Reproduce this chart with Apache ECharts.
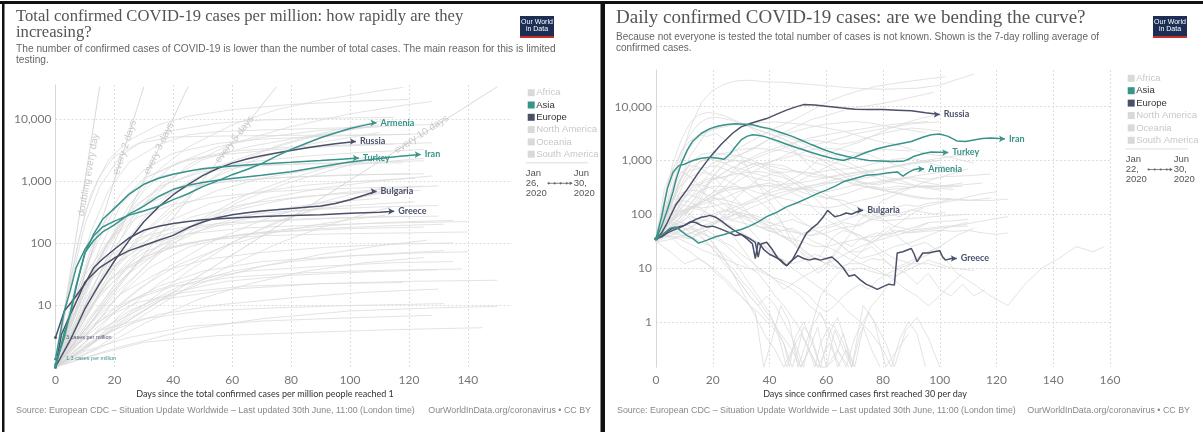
<!DOCTYPE html>
<html>
<head>
<meta charset="utf-8">
<script src="https://cdn.jsdelivr.net/npm/echarts@6/dist/echarts.min.js"></script>
<style>
html,body{margin:0;padding:0;background:#fff;}
#c{width:1203px;height:432px;}
</style>
</head>
<body>
<div id="c"></div>
<script>
// ---------- Panel 1: total confirmed cases per million, by days since 1 case per million ----------
const casesArmenia = [[0,1.35],[3,8],[5,17],[7,40],[10,79],[13,130],[16,180],[20,224],[25,280],[30,327],[35,390],[40,497],[45,620],[50,806],[55,1000],[60,1256],[65,1520],[70,1895],[75,2500],[80,3207],[85,4000],[90,4957],[95,5900],[100,6957],[105,7900],[109,8600]];
const casesRussia = [[0,1.0],[5,2.7],[10,8.7],[15,22],[20,51],[25,110],[30,219],[35,380],[40,597],[45,870],[50,1214],[55,1580],[60,1930],[65,2250],[70,2540],[75,2810],[80,3082],[85,3380],[90,3680],[95,3950],[102,4300]];
const casesTurkey = [[0,1.0],[3,3.6],[5,7],[7,20],[10,68],[13,140],[16,240],[20,360],[25,610],[30,880],[35,1100],[40,1280],[45,1430],[50,1565],[55,1660],[60,1740],[70,1875],[80,1990],[90,2120],[97,2230],[103,2330]];
const casesIran = [[0,1.1],[3,3],[6,12],[8,30],[10,70],[13,110],[16,150],[20,195],[25,290],[30,390],[35,560],[40,730],[45,850],[50,940],[55,1020],[60,1090],[70,1225],[80,1405],[90,1680],[100,2015],[110,2290],[117,2480],[124,2650]];
const casesBulgaria = [[0,1.0],[2,3.3],[5,7],[8,14],[10,23.5],[15,40],[20,57],[25,75],[30,91],[35,110],[40,132],[45,175],[50,217],[55,255],[60,283],[65,305],[70,325],[75,342],[80,358],[85,375],[90,392],[95,430],[100,497],[105,590],[109,680]];
const casesGreece = [[0,3.0],[3,8],[6,12],[10,22],[13,40],[16,55],[20,79],[25,120],[30,160],[35,185],[40,206],[45,222],[50,236],[60,252],[70,265],[80,276],[90,283],[100,300],[110,313],[115,322]];

// every other country, drawn in grey behind the highlighted ones
const casesOthers = [
  [[0,1],[4,15],[8,120],[12,600],[18,2200],[25,4500],[35,8000],[45,11000],[60,14000],[80,17000],[100,19000],[120,20500]],
  [[0,1],[5,20],[10,200],[15,800],[22,2500],[30,4500],[40,6500],[55,8500],[70,9500],[90,10200],[115,10500]],
  [[0,1],[6,40],[10,300],[15,1200],[20,2500],[28,4000],[40,5100],[60,5300],[80,5400],[110,5500],[120,5600]],
  [[0,1],[6,15],[12,150],[18,700],[25,2000],[35,3800],[45,5500],[55,6200],[70,6600],[90,7000],[110,7400]],
  [[0,1],[8,10],[15,60],[25,400],[35,1500],[45,3500],[60,8000],[75,14000],[90,20000],[105,26000],[118,32000]],
  [[0,1],[10,12],[20,80],[30,400],[45,1800],[60,4000],[80,7500],[100,12000],[120,17000],[128,19000]],
  [[0,1],[10,20],[20,150],[30,700],[40,1800],[55,3500],[70,5000],[90,6500],[110,7500],[130,8200]],
  [[0,1],[8,20],[15,150],[22,600],[30,1500],[40,2800],[55,4000],[70,4700],[90,5200],[110,5500],[125,5700]],
  [[0,1],[8,12],[15,80],[22,400],[32,1200],[45,2200],[60,3000],[80,3500],[100,3800],[120,4000],[128,4100]],
  [[0,1],[6,8],[12,60],[20,350],[30,1100],[42,2000],[55,2600],[75,3200],[95,3600],[115,3900]],
  [[0,1],[10,8],[18,50],[26,250],[36,900],[50,2200],[65,3500],[80,4700],[95,6000],[108,7600]],
  [[0,1],[10,10],[20,60],[30,250],[40,700],[55,1700],[70,3000],[85,4800],[100,6800],[110,8000]],
  [[0,1],[12,6],[24,40],[36,200],[48,800],[62,2000],[76,3800],[90,5800],[104,8000],[112,9500]],
  [[0,1],[10,6],[20,35],[30,150],[42,500],[55,1200],[70,2400],[85,3800],[100,5000],[110,6000]],
  [[0,1],[8,10],[16,70],[25,300],[35,800],[50,1500],[65,2000],[85,2500],[105,2900],[125,3200]],
  [[0,1],[9,15],[18,100],[27,400],[38,900],[50,1400],[65,1700],[85,1900],[105,2000],[125,2100]],
  [[0,1],[7,6],[14,40],[21,150],[30,400],[45,800],[60,1000],[80,1150],[100,1250],[125,1300]],
  [[0,1],[9,5],[18,30],[28,120],[40,350],[55,700],[70,1100],[90,1600],[110,2000],[125,2300]],
  [[0,1],[12,4],[24,20],[36,80],[50,250],[65,600],[80,1100],[95,1800],[108,2600]],
  [[0,1],[10,4],[22,18],[34,60],[48,180],[62,450],[78,900],[94,1500],[106,2200]],
  [[0,1],[8,5],[16,25],[26,90],[38,220],[52,420],[68,650],[85,850],[105,1000],[122,1100]],
  [[0,1],[10,5],[20,20],[32,70],[46,180],[60,330],[78,500],[98,650],[118,780],[130,830]],
  [[0,1],[12,3],[24,12],[38,40],[54,110],[70,230],[86,400],[100,600],[112,780]],
  [[0,1],[15,3],[30,10],[45,35],[60,100],[75,220],[90,380],[105,560],[115,700]],
  [[0,1],[8,4],[16,18],[26,60],[38,140],[52,230],[70,300],[90,350],[110,380],[130,400]],
  [[0,1],[10,3],[20,12],[32,40],[45,85],[60,130],[80,170],[100,200],[120,220],[135,230]],
  [[0,1],[6,3],[14,12],[24,40],[36,80],[50,110],[70,130],[95,140],[120,145],[140,150]],
  [[0,1],[10,4],[22,15],[36,35],[52,55],[70,70],[92,85],[115,95],[135,100]],
  [[0,1],[12,2.5],[26,8],[42,20],[60,35],[80,50],[100,62],[120,70],[132,75]],
  [[0,1],[15,2],[30,5],[48,12],[66,22],[85,35],[105,48],[125,58]],
  [[0,1],[8,2],[20,4],[35,7],[55,10],[80,13],[105,16],[130,18]],
  [[0,1],[10,1.8],[25,3],[45,4.5],[70,5.5],[100,6.2],[128,6.8]],
  [[0,1],[6,2.2],[16,4],[30,6],[50,8],[75,9],[100,9.8],[132,10.5]],
  [[0,1],[12,3],[25,8],[40,16],[58,24],[80,30],[105,34],[130,37]],
  [[0,1],[5,6],[10,30],[18,110],[28,260],[40,420],[55,560],[75,680],[100,760],[125,820]],
  [[0,1],[7,7],[14,50],[22,200],[32,500],[45,800],[60,1000],[80,1150],[105,1250],[120,1300]],
  [[0,1],[6,10],[12,80],[18,300],[26,700],[36,1200],[50,1600],[70,1800],[95,1900],[118,1950]],
  [[0,1],[9,3],[18,14],[28,50],[40,140],[55,300],[72,520],[90,760],[110,1000],[128,1200]],
  [[0,1],[11,2],[22,7],[35,22],[50,60],[66,140],[82,280],[98,480],[110,650]],
  [[0,1],[14,2],[28,6],[44,18],[60,45],[76,100],[92,190],[106,300],[114,380]],
  [[0,1],[5,3],[12,15],[20,45],[30,90],[45,140],[65,175],[90,195],[115,210],[140,220]],
  [[0,1],[4,4],[10,20],[18,60],[28,120],[40,170],[58,210],[80,240],[105,260],[130,270]],
  [[0,1],[8,5],[18,25],[30,70],[45,140],[62,230],[80,320],[100,400],[122,460]],
  [[0,1],[10,2],[22,5],[36,12],[52,25],[70,42],[90,65],[110,90],[126,110]],
  [[0,1],[12,1.5],[30,2.5],[55,3.2],[85,3.6],[115,4],[145,4.3]],
  [[0,1],[20,2],[45,4],[70,6],[100,8],[130,9],[150,9.5]],
  [[0,1],[15,4],[35,12],[60,18],[90,22],[120,24],[150,25]],
  [[0,1],[7,4],[15,15],[25,40],[38,80],[55,120],[75,150],[100,170],[125,180]],
  [[0,1],[9,6],[18,25],[30,60],[45,100],[65,140],[90,170],[115,190],[132,200]],
  [[0,1],[5,5],[12,25],[22,70],[35,130],[50,180],[70,220],[95,250],[120,270]],
  [[0,1],[10,3],[22,9],[35,20],[50,35],[70,50],[95,60],[120,68],[140,72]],
  [[0,1],[8,3],[18,8],[30,15],[45,25],[65,35],[90,42],[115,48],[135,50]],
  [[0,1],[14,5],[28,18],[42,45],[58,90],[75,150],[95,220],[112,280]],
  [[0,1],[6,2],[14,5],[26,12],[40,20],[60,28],[85,33],[110,36],[138,38]],
  [[0,1],[12,6],[24,30],[38,90],[54,200],[72,330],[92,450],[110,520]],
  [[0,1],[10,8],[20,40],[32,120],[46,260],[64,420],[84,560],[104,650],[124,700]],
  [[0,1],[7,2.5],[16,6],[28,11],[44,16],[64,20],[90,22],[118,23]]
];

// doubling-time guides: start at 1 case per million, end beyond the top of the axis
const doublingNames = ['doubling every day', 'every 2 days', 'every 3 days', 'every 5 days', 'every 10 days'];
const doublingEnds = [[15,32768],[30,32768],[45,32768],[75,32768],[150,32768]];
const doublingLabelAt = [[11.2,1250],[23.6,3450],[35.1,3300],[60.8,4620],[124.3,5630]];
const doublingLabelAngle = [80, 72, 64, 52, 33];

// ---------- Panel 2: daily confirmed cases (7-day average), by days since 30 per day ----------
const dailyRussia = [[0,35],[2,45],[4,70],[7,150],[11,290],[15,600],[19,1150],[23,2000],[27,3200],[30,4200],[34,5000],[39,6000],[43,7400],[46,8600],[49,9800],[52,10900],[56,10700],[60,10200],[65,9500],[70,8900],[75,8800],[80,8800],[85,8600],[90,8400],[95,7700],[100,7150]];
const dailyIran = [[0,35],[2,90],[4,300],[6,600],[8,800],[10,850],[13,1000],[16,1100],[19,1150],[22,1100],[24,1050],[26,1300],[28,1800],[30,2400],[32,2800],[34,3000],[36,2950],[38,2800],[40,2600],[43,2300],[46,2000],[50,1700],[54,1450],[58,1250],[62,1100],[66,1000],[70,1150],[74,1400],[78,1650],[82,1850],[86,2050],[90,2250],[94,2700],[97,3000],[100,3100],[103,2800],[106,2300],[109,2250],[112,2400],[115,2550],[118,2600],[121,2550],[123,2520]];
const dailyTurkey = [[0,35],[2,60],[4,120],[6,260],[7,430],[9,900],[11,1550],[13,2300],[16,3200],[19,3900],[22,4350],[25,4650],[28,4800],[31,4700],[34,4600],[37,4200],[40,3900],[44,3300],[48,2800],[51,2400],[55,1950],[59,1600],[63,1350],[67,1200],[71,1080],[75,1000],[79,980],[83,950],[87,960],[89,1050],[91,1200],[94,1330],[97,1440],[100,1420],[103,1400]];
const dailyArmenia = [[0,35],[3,45],[5,55],[7,58],[9,48],[11,40],[13,35],[15,29],[18,33],[21,38],[24,42],[27,47],[30,52],[33,60],[36,72],[39,90],[42,105],[46,137],[50,165],[54,205],[57,244],[60,280],[63,330],[66,400],[70,460],[74,530],[78,550],[82,590],[85,610],[87,510],[89,600],[91,680],[93,710],[94.5,690]];
const dailyBulgaria = [[0,35],[2,40],[4,48],[6,55],[8,58],[10,62],[12,72],[14,70],[16,62],[18,58],[20,60],[22,55],[24,50],[26,45],[28,40],[30,42],[32,35],[34,28],[35,15],[36,30],[38,22],[40,18],[42,16],[44,14],[46,11],[48,14],[50,22],[52,35],[53,44],[55,55],[57,67],[59,90],[60.5,118],[62,100],[63,90],[65,95],[67,105],[69,100],[71,112],[73,118]];
const dailyGreece = [[0,35],[2,38],[4,45],[6,50],[8,55],[10,62],[12,70],[14,80],[16,88],[18,92],[19,95],[21,88],[23,75],[25,62],[27,52],[29,45],[31,40],[33,35],[35,30],[36,16],[37,28],[39,30],[41,22],[43,15],[45,12],[46,11],[48,14],[50,17],[52,15],[54,14],[56,15],[58,14],[60,15],[62,16],[64,13],[66,10],[68,7],[70,7.5],[72,6],[74,5],[76,4.5],[78,4],[80,4.5],[82,5],[84,4.8],[85,19],[87,20],[89,22],[90,23],[91,18],[92,13],[94,19],[96,19],[98,20],[100,21],[101,16],[102,14],[104,15],[106,15]];

const dailyOthers = [
  [[0,32],[4,150],[8,800],[12,4000],[16,12000],[20,20000],[24,26000],[28,30000],[33,31000],[38,29000],[44,28500],[50,27000],[56,25500],[62,24000],[68,22500],[74,21500],[80,21000],[86,21500],[92,22000],[100,25000],[106,32000],[112,40000]],
  [[0,33],[6,80],[12,200],[18,500],[24,1100],[30,1800],[36,2700],[42,4000],[48,5500],[54,8000],[60,12000],[66,16000],[72,20000],[78,24000],[84,27000],[90,30000],[96,33000],[102,36000]],
  [[0,31],[5,70],[10,200],[15,500],[20,900],[25,1100],[30,1300],[35,1700],[40,2500],[45,3300],[50,4400],[55,5800],[60,6800],[65,8200],[70,9500],[75,10500],[80,11500],[85,13000],[90,15000],[95,17000],[98,18500]],
  [[0,30],[3,120],[6,500],[9,1500],[12,3000],[15,4800],[18,6000],[21,6400],[24,6000],[27,5500],[30,4700],[35,3900],[40,3100],[45,2500],[50,1900],[55,1300],[60,900],[65,650],[70,450],[75,330],[80,280],[85,250],[90,220],[95,200],[100,190],[110,180],[118,200]],
  [[0,35],[3,200],[6,900],[9,2500],[12,5000],[15,7000],[18,7800],[21,7500],[24,6800],[28,5500],[32,4500],[36,3600],[40,3200],[45,2500],[50,1300],[55,700],[60,500],[65,450],[70,350],[75,320],[80,280],[86,300],[92,320],[100,330],[108,350],[115,380]],
  [[0,32],[4,150],[8,700],[12,2000],[16,3200],[20,4000],[24,4600],[28,4600],[32,4500],[36,4300],[40,3700],[45,2900],[50,2300],[55,1700],[60,1400],[65,1100],[70,800],[75,630],[80,500],[86,430],[92,330],[100,330],[108,380]],
  [[0,36],[6,200],[12,1200],[18,3500],[24,4500],[30,4800],[36,5000],[42,5200],[48,4900],[54,4500],[60,4000],[66,3500],[72,2800],[78,2300],[84,2000],[90,1600],[96,1300],[102,1200],[108,1000],[112,900]],
  [[0,33],[6,60],[12,150],[18,350],[24,600],[30,900],[36,1300],[42,1700],[48,2100],[54,2600],[60,3000],[66,3400],[72,3800],[78,4300],[84,4700],[90,5000],[96,5300]],
  [[0,31],[5,50],[10,90],[15,200],[20,500],[25,900],[30,1300],[35,1800],[40,2500],[45,3000],[50,3600],[55,4200],[60,4700],[65,5000],[70,5300],[75,5000],[80,4500],[85,4000],[90,3600],[95,3300]],
  [[0,34],[4,150],[8,700],[12,1800],[16,3000],[20,3800],[24,4200],[28,4700],[32,4500],[36,3200],[40,2500],[44,2000],[48,1500],[52,1100],[56,900],[60,800],[64,600],[68,450],[72,400],[78,350],[84,420],[90,480],[96,450],[102,500],[110,520],[118,560]],
  [[0,32],[5,100],[10,400],[15,900],[20,1200],[25,1400],[30,1600],[35,1700],[40,1600],[45,1500],[50,1300],[55,1150],[60,1000],[65,850],[70,700],[75,550],[80,420],[85,380],[90,350],[95,320],[100,300],[105,290]],
  [[0,35],[5,80],[10,120],[15,160],[20,250],[25,500],[30,900],[35,1100],[40,1400],[45,1700],[50,2200],[55,2400],[60,2200],[65,2000],[70,2200],[75,2700],[80,3200],[85,3600],[90,4000],[95,3800],[100,3500]],
  [[0,35],[5,70],[10,110],[15,150],[20,220],[25,300],[30,450],[35,650],[40,900],[45,1200],[50,1600],[55,1900],[60,2200],[65,2600],[70,3100],[75,3500],[80,3900],[85,4300],[90,4800],[95,5000],[100,5200]],
  [[0,40],[4,80],[8,60],[12,50],[16,90],[20,200],[25,350],[30,600],[35,800],[40,950],[45,1100],[50,1300],[55,1600],[60,1700],[65,1600],[70,1400],[75,1300],[80,1000],[85,800],[90,650],[95,600]],
  [[0,33],[4,100],[8,350],[12,900],[16,1300],[20,1400],[24,1300],[28,1250],[32,1100],[36,900],[40,700],[44,600],[48,450],[52,350],[56,280],[60,230],[64,180],[68,130],[72,100],[76,80],[80,75],[86,80],[92,85],[98,90],[104,95],[110,100]],
  [[0,35],[4,100],[8,300],[12,700],[16,1000],[20,1100],[24,1050],[28,1000],[32,950],[36,800],[40,650],[44,550],[48,400],[52,300],[56,250],[60,200],[66,180],[72,130],[78,90],[84,60],[90,50],[96,55],[102,60],[110,60]],
  [[0,34],[3,80],[6,200],[9,500],[12,900],[15,1100],[18,1100],[21,1000],[24,900],[27,750],[30,600],[33,450],[36,350],[40,250],[44,150],[48,100],[52,70],[56,50],[60,40],[64,30],[68,20],[72,15],[78,18],[84,25],[90,30],[96,40],[104,60],[110,70]],
  [[0,30],[3,100],[6,300],[9,600],[12,800],[15,750],[18,600],[21,450],[24,300],[27,220],[30,150],[33,100],[36,70],[40,55],[44,40],[48,35],[52,30],[56,25],[60,25],[66,30],[72,35],[78,40],[84,45],[90,55],[96,70],[104,75],[110,80]],
  [[0,36],[3,120],[6,180],[9,220],[12,230],[15,200],[18,180],[21,150],[24,120],[28,100],[32,80],[36,60],[40,50],[44,40],[48,30],[52,22],[56,15],[60,12],[64,10],[68,9],[72,10],[78,8],[84,7],[90,10],[96,14],[104,10],[112,9]],
  [[0,32],[3,70],[6,120],[9,180],[12,280],[15,380],[18,450],[21,480],[24,600],[27,750],[30,700],[33,600],[36,550],[40,480],[44,350],[48,250],[52,200],[56,120],[60,80],[64,60],[68,50],[72,40],[76,30],[80,20],[84,15],[90,12],[96,12],[102,10]],
  [[0,33],[3,100],[6,250],[9,500],[12,650],[15,700],[18,750],[21,800],[24,700],[27,600],[30,550],[33,500],[36,450],[40,420],[44,400],[48,300],[52,250],[56,220],[60,200],[64,220],[68,250],[72,300],[76,330],[80,300],[85,330],[90,320],[96,340],[102,320],[108,330]],
  [[0,34],[4,100],[8,300],[12,500],[16,600],[20,550],[24,450],[28,350],[32,250],[36,180],[40,120],[44,70],[48,40],[52,20],[56,15],[60,12],[64,20],[68,40],[72,80],[76,120],[80,180],[86,250],[92,350],[98,450],[104,560],[110,700]],
  [[0,35],[4,90],[8,200],[12,350],[16,350],[20,300],[24,200],[28,110],[32,60],[36,35],[40,20],[44,15],[48,12],[52,14],[56,18],[60,15],[64,10],[68,12],[72,12],[76,15],[80,14],[84,10],[88,12],[94,18],[100,25],[106,40],[112,55]],
  [[0,33],[3,50],[6,65],[9,70],[12,60],[15,45],[18,30],[21,20],[24,12],[27,8],[30,5],[33,3],[36,2],[39,1.2],[42,0.8],[45,0.5],[48,0.3],[51,0.143],[54,0.3],[57,0.143],[60,0.143],[64,0.3],[68,0.143]],
  [[0,36],[3,45],[6,50],[9,40],[12,35],[15,45],[18,50],[21,40],[24,30],[27,25],[30,18],[33,14],[36,10],[39,8],[42,6],[45,5],[48,4],[51,3],[54,2],[57,1.5],[60,1],[63,0.8],[66,0.4],[69,0.143],[72,0.6],[75,1.5],[78,0.8],[81,0.4],[84,0.143],[88,0.7],[92,1.2],[96,0.5],[100,0.143]],
  [[0,32],[3,80],[6,150],[9,180],[12,170],[15,140],[18,100],[21,90],[24,60],[27,40],[30,25],[33,15],[36,10],[39,8],[42,6],[45,4],[48,5],[51,4],[54,3],[57,2],[60,1.5],[63,2],[66,3],[69,4],[72,5],[75,4],[78,6],[82,8],[86,10],[90,12],[94,16],[98,20],[102,30]],
  [[0,33],[3,40],[6,45],[9,50],[12,55],[15,45],[18,40],[21,35],[24,28],[27,20],[30,14],[33,10],[36,8],[39,5],[42,3],[45,2],[48,1.2],[51,0.7],[54,0.3],[56,0.143],[58,0.4],[61,0.8],[64,0.3],[67,0.143],[70,0.5],[73,1],[76,2],[79,3],[82,5],[86,8],[90,12],[94,18],[98,22]],
  [[0,35],[3,60],[6,80],[9,70],[12,60],[15,50],[18,40],[21,25],[24,15],[27,8],[30,4],[33,2],[36,1],[39,0.5],[42,0.3],[45,0.143],[48,0.3],[51,0.6],[54,0.3],[57,0.143],[61,0.4],[65,0.143]],
  [[0,34],[3,100],[6,200],[9,250],[12,280],[15,270],[18,230],[21,200],[24,150],[27,120],[30,100],[33,80],[36,60],[39,50],[42,45],[45,50],[48,55],[51,45],[54,40],[57,45],[60,55],[63,60],[66,70],[69,65],[72,60],[75,80],[78,90],[82,100],[86,90],[90,120],[94,110],[98,100],[102,110]],
  [[0,31],[4,60],[8,120],[12,200],[16,280],[20,330],[24,330],[28,300],[32,320],[36,350],[40,340],[44,300],[48,280],[52,300],[56,320],[60,360],[64,400],[68,450],[72,380],[76,360],[80,400],[84,430],[88,480],[92,420],[96,380],[100,350],[104,320]],
  [[0,35],[3,300],[6,700],[9,600],[12,500],[15,350],[18,200],[21,120],[24,90],[27,80],[30,90],[33,100],[36,90],[39,80],[42,60],[45,40],[48,30],[51,20],[54,12],[57,8],[60,10],[63,20],[66,30],[69,25],[72,35],[75,40],[78,45],[82,40],[86,50],[90,45],[95,48],[100,50],[105,48],[110,50],[115,45],[120,42],[124,45]],
  [[0,33],[4,40],[8,38],[12,35],[16,45],[20,60],[24,100],[28,200],[32,300],[36,450],[40,550],[44,500],[48,400],[52,300],[56,200],[60,120],[64,80],[68,50],[72,35],[76,30],[80,35],[84,40],[88,45],[94,50],[100,55],[106,60],[112,70],[118,80],[124,90]],
  [[0,35],[3,180],[6,700],[9,1500],[12,2300],[15,3000],[18,2800],[21,3200],[24,2500],[27,1800],[30,1200],[33,600],[36,350],[39,200],[42,120],[45,60],[48,30],[51,20],[54,15],[57,14],[60,25],[63,40],[66,50],[69,45],[72,40],[75,30],[78,40],[82,60],[86,35],[90,25],[95,30],[100,20],[106,8],[112,5],[118,3],[124,2],[130,5],[136,10],[142,15],[148,25],[154,20],[158,25]],
  [[0,33],[4,45],[8,60],[12,100],[16,200],[20,500],[24,900],[28,1000],[32,800],[36,900],[40,800],[44,700],[48,650],[52,600],[56,550],[60,500],[64,450],[68,400],[72,350],[76,300],[80,280],[84,250],[88,220],[92,200],[96,190],[100,200],[106,190],[112,180],[118,180],[124,190]],
  [[0,32],[4,60],[8,100],[12,150],[16,300],[20,450],[24,500],[28,550],[32,600],[36,620],[40,580],[44,600],[48,620],[52,600],[56,580],[60,650],[64,680],[68,700],[72,750],[76,850],[80,950],[84,1050],[88,1100],[92,1050],[96,900],[100,800],[104,700],[108,650]],
  [[0,30],[5,70],[10,110],[15,150],[20,220],[25,280],[30,300],[35,320],[40,340],[45,360],[50,380],[55,420],[60,480],[65,550],[70,600],[75,650],[80,700],[85,800],[90,900],[95,1000],[100,1100],[105,1200],[110,1250]],
  [[0,32],[4,80],[8,140],[12,80],[16,60],[20,70],[24,90],[28,120],[32,150],[36,200],[40,280],[44,350],[48,450],[52,600],[56,900],[60,1300],[64,1600],[68,1900],[72,2200],[76,2800],[80,3500],[84,4200],[88,5000],[92,5800],[96,6500],[100,7200]],
  [[0,31],[5,40],[10,50],[15,70],[20,90],[25,120],[30,150],[35,200],[40,250],[45,300],[50,400],[55,550],[60,750],[65,1000],[70,1300],[75,1500],[80,1600],[85,1550],[90,1500]],
  [[0,34],[4,50],[8,80],[12,130],[16,180],[20,250],[24,300],[28,330],[32,300],[36,250],[40,230],[44,200],[48,180],[52,150],[56,140],[60,130],[64,140],[68,160],[72,180],[76,200],[80,230],[84,260],[88,300],[92,330],[96,300],[100,280]],
  [[0,30],[3,40],[6,35],[9,25],[12,20],[15,15],[18,12],[21,8],[24,6],[27,4],[30,3],[33,2],[36,1.5],[39,1],[42,0.7],[45,0.4],[48,0.143],[50,0.3],[52,0.8],[55,0.5],[58,0.143],[61,0.6],[64,1.2],[67,0.4],[70,0.143],[73,0.8],[76,0.3],[79,0.143]],
  [[0,33],[4,120],[8,150],[12,140],[16,130],[20,140],[24,160],[28,140],[32,110],[36,80],[40,60],[44,40],[48,30],[52,45],[56,50],[60,40],[64,30],[68,20],[72,20],[76,25],[80,15],[84,10],[88,8],[92,5],[96,8],[100,4],[104,3],[108,5],[112,3],[116,4]],
  [[0,35],[3,90],[6,110],[9,120],[12,100],[15,70],[18,40],[21,25],[24,15],[27,8],[30,5],[33,3],[36,2],[39,3],[42,2],[45,1],[48,0.5],[51,0.143],[54,0.3],[57,0.8],[60,0.143],[63,0.2],[66,0.6],[69,0.143],[73,2],[77,1],[81,0.143],[85,0.3],[89,0.6]],
  [[0,34],[4,60],[8,100],[12,130],[16,150],[20,180],[24,200],[28,250],[32,300],[36,350],[40,380],[44,330],[48,300],[52,320],[56,350],[60,380],[64,400],[68,420],[72,450],[76,500],[80,550],[84,600],[88,650]],
  [[0,30],[5,80],[10,200],[15,350],[20,450],[25,500],[30,700],[35,900],[40,850],[45,800],[50,600],[55,500],[60,480],[65,520],[70,580],[75,620],[80,700],[85,800],[90,900],[95,950],[100,1000]],
  [[0,33],[4,45],[8,60],[12,70],[16,90],[20,100],[24,120],[28,110],[32,100],[36,80],[40,70],[44,60],[48,50],[52,40],[56,30],[60,25],[64,20],[68,15],[72,12],[76,10],[80,8],[84,6],[88,4],[92,3],[96,2],[100,3],[104,5],[108,8]],
  [[0,31],[5,20],[10,12],[15,15],[20,10],[25,6],[30,3],[35,1.5],[38,0.143],[41,0.5],[44,2],[47,1],[50,0.143],[54,0.6],[58,3],[62,6],[66,10],[70,15],[74,25],[78,35],[82,50],[86,70],[90,100],[94,130]],
  [[0,32],[4,50],[8,70],[12,90],[16,80],[20,70],[24,85],[28,100],[32,90],[36,75],[40,60],[44,70],[48,80],[52,65],[56,55],[60,60],[64,70],[68,85],[72,100],[76,90],[80,110],[84,130],[88,150],[92,140],[96,160],[100,170],[104,190]],
  [[0,35],[3,55],[6,70],[9,60],[12,45],[15,40],[18,30],[21,20],[24,14],[27,10],[30,6],[33,4],[36,2.5],[39,1.5],[42,0.9],[45,0.4],[47,0.143],[49,0.5],[52,1],[55,0.4],[58,0.143],[60,0.143],[63,0.7],[66,0.3],[69,0.143]],
  [[0,34],[4,70],[8,110],[12,130],[16,120],[20,95],[24,70],[28,55],[32,40],[36,30],[40,22],[44,15],[48,10],[52,7],[56,5],[60,3.5],[64,2.5],[68,1.5],[72,1],[76,0.6],[80,0.3],[83,0.143],[86,0.5],[89,1],[92,0.6],[95,0.143]],
  [[0,33],[5,45],[10,40],[15,50],[20,65],[25,80],[30,70],[35,60],[40,55],[45,50],[50,45],[55,40],[60,45],[65,55],[70,60],[75,75],[80,90],[85,100],[90,120],[95,140],[100,160],[105,180],[110,210],[115,240],[120,260]],
  [[0,36],[4,40],[8,35],[12,28],[16,22],[20,18],[24,15],[28,12],[32,10],[36,9],[40,7],[44,6],[48,5],[52,7],[56,9],[60,12],[64,15],[68,20],[72,25],[76,30],[80,40],[84,50],[88,45],[92,55],[96,70]],
  [[0,31],[5,60],[10,100],[15,160],[20,200],[25,180],[30,150],[35,170],[40,220],[45,260],[50,300],[55,280],[60,260],[65,300],[70,350],[75,380],[80,420],[85,460],[90,500],[95,550],[100,600],[105,650]],
  [[0,32],[4,45],[8,55],[12,40],[16,30],[20,25],[24,18],[28,12],[32,6],[36,3],[40,1.5],[43,0.6],[46,0.143],[49,0.4],[52,0.143],[55,0.8],[58,1.5],[61,0.6],[64,0.143],[67,0.3],[70,0.143]],
  [[0,30],[6,35],[12,45],[18,60],[24,80],[30,110],[36,150],[42,200],[48,260],[54,330],[60,400],[66,480],[72,560],[78,650],[84,750],[90,850],[96,950],[100,1000]]
];

const continents = ['Africa', 'Asia', 'Europe', 'North America', 'Oceania', 'South America'];

const TEAL = '#38938b';
const SLATE = '#4b5069';
const GREY = '#dcdcdc';
const SANS = '"Liberation Sans", Arial, sans-serif';
const LATO = 'Lato, "Liberation Sans", sans-serif';
const SERIF = '"Liberation Serif", "DejaVu Serif", serif';

const continentColor = { 'Asia': TEAL, 'Europe': SLATE };

function decadeFormatter(hideOne) {
  return function (v) {
    const l = Math.log10(v);
    if (Math.abs(l - Math.round(l)) > 1e-6) return '';
    if (hideOne && Math.round(l) === 0) return '';
    return Math.round(v).toLocaleString('en-US');
  };
}

function greySeries(list, axis) {
  return list.map(d => ({
    type: 'line', xAxisIndex: axis, yAxisIndex: axis, data: d,
    symbol: 'none', silent: true, z: 1,
    lineStyle: { color: GREY, width: 0.8 }
  }));
}

function countrySeries(name, data, color, axis, startText) {
  const items = data.map((p, i) => {
    if (i === data.length - 1) {
      return { value: p, symbol: 'arrow', symbolSize: [5, 6], symbolRotate: -90 };
    }
    if (i === 0) {
      const it = { value: p, symbol: 'circle', symbolSize: 3 };
      if (startText) {
        it.label = { show: true, position: 'right', distance: 9, formatter: startText,
          fontSize: 5.5, fontFamily: SANS, color: color };
      }
      return it;
    }
    return p;
  });
  return {
    type: 'line', name: name, xAxisIndex: axis, yAxisIndex: axis, data: items,
    symbol: 'none', silent: true, z: 5,
    lineStyle: { color: color, width: 1.5 },
    itemStyle: { color: color },
    endLabel: { show: true, formatter: '{a}', color: color, fontSize: 9,
      fontWeight: 'bold', fontFamily: LATO, distance: 4 }
  };
}

const series = [];
series.push(...greySeries(casesOthers, 0));
doublingNames.forEach((n, i) => {
  series.push({
    type: 'line', xAxisIndex: 0, yAxisIndex: 0, data: [[0, 1], doublingEnds[i]],
    symbol: 'none', silent: true, z: 2, lineStyle: { color: '#cfcfcf', width: 0.8 }
  });
});
series.push({
  type: 'scatter', xAxisIndex: 0, yAxisIndex: 0, silent: true, z: 3,
  symbolSize: 1, itemStyle: { color: 'rgba(0,0,0,0)' },
  data: doublingLabelAt.map((p, i) => ({
    value: p,
    label: { show: true, position: 'inside', formatter: doublingNames[i], rotate: doublingLabelAngle[i],
      fontSize: 10, fontFamily: SANS, color: '#bdbdbd', align: 'center', verticalAlign: 'middle' }
  }))
});
series.push(countrySeries('Russia', casesRussia, SLATE, 0));
series.push(countrySeries('Bulgaria', casesBulgaria, SLATE, 0));
series.push(countrySeries('Greece', casesGreece, SLATE, 0, '3 cases per million'));
series.push(countrySeries('Iran', casesIran, TEAL, 0));
series.push(countrySeries('Turkey', casesTurkey, TEAL, 0));
series.push(countrySeries('Armenia', casesArmenia, TEAL, 0, '1.3 cases per million'));

series.push(...greySeries(dailyOthers, 1));
series.push(countrySeries('Russia', dailyRussia, SLATE, 1));
series.push(countrySeries('Bulgaria', dailyBulgaria, SLATE, 1));
series.push(countrySeries('Greece', dailyGreece, SLATE, 1));
series.push(countrySeries('Iran', dailyIran, TEAL, 1));
series.push(countrySeries('Turkey', dailyTurkey, TEAL, 1));
series.push(countrySeries('Armenia', dailyArmenia, TEAL, 1));

const dotted = { show: true, lineStyle: { color: '#dddddd', type: [2, 2], width: 1 } };

function xAxisFor(idx, maxDay) {
  return {
    type: 'value', gridIndex: idx, min: 0, max: maxDay, interval: 20,
    axisLine: { show: false }, axisTick: { show: false },
    axisLabel: { color: '#777', fontSize: 12, fontFamily: LATO, margin: 7,
      formatter: v => (v % 20 === 0 ? String(v) : '') },
    splitLine: Object.assign({ showMinLine: false, showMaxLine: maxDay % 20 === 0 }, dotted)
  };
}
function yAxisFor(idx, minV, maxV, hideOne) {
  return {
    type: 'log', logBase: 10, gridIndex: idx, min: minV, max: maxV,
    axisLine: { show: true, lineStyle: { color: '#d6d6d6' } }, axisTick: { show: false },
    axisLabel: { color: '#777', fontSize: 12, fontFamily: LATO, margin: 4, formatter: decadeFormatter(hideOne) },
    splitLine: Object.assign({ showMinLine: false, showMaxLine: false }, dotted)
  };
}

// ---------- page furniture: frame, headings, logos, legends, notes ----------
const graphic = [];
function txt(x, y, text, font, fill, extra) {
  graphic.push({ type: 'text', silent: true, z: 10,
    style: Object.assign({ x: x, y: y, text: text, font: font, fill: fill, textVerticalAlign: 'middle' }, extra || {}) });
}
function box(x, y, w, h, fill) {
  graphic.push({ type: 'rect', silent: true, z: 10, shape: { x: x, y: y, width: w, height: h }, style: { fill: fill } });
}
function logo(x, y) {
  box(x, y, 34, 22, '#1c2e54');
  box(x, y + 20, 34, 2, '#c8302a');
  txt(x + 17, y + 6, 'Our World', '7px ' + SANS, '#fff', { textAlign: 'center' });
  txt(x + 17, y + 13.5, 'in Data', '7px ' + SANS, '#fff', { textAlign: 'center' });
}
function continentLegend(x, y, step, from, to) {
  continents.forEach((c, i) => {
    const col = continentColor[c];
    box(x, y + i * step - 3.5, 7, 7, col || '#d9d9d9');
    txt(x + 8.5, y + i * step, c, '9.5px ' + SANS, col ? '#333' : '#c8c8c8');
  });
  const sepY = y + 5.7 * step;
  graphic.push({ type: 'line', silent: true, z: 10, shape: { x1: x - 2, y1: sepY, x2: x + 60, y2: sepY },
    style: { stroke: '#dddddd', lineWidth: 1 } });
  const dy = sepY + 6;
  txt(x - 2, dy, from, '9.5px ' + SANS, '#555', { lineHeight: 9.7, textVerticalAlign: 'top' });
  txt(x + 46, dy, to, '9.5px ' + SANS, '#555', { lineHeight: 9.7, textVerticalAlign: 'top' });
  const ay = dy + 14.5;
  graphic.push({ type: 'line', silent: true, z: 10, shape: { x1: x + 20, y1: ay, x2: x + 44, y2: ay },
    style: { stroke: '#666', lineWidth: 0.8 } });
  [x + 21, x + 27, x + 33, x + 39].forEach(cx => graphic.push({ type: 'circle', silent: true, z: 10,
    shape: { cx: cx, cy: ay, r: 1.1 }, style: { fill: '#666' } }));
  graphic.push({ type: 'polygon', silent: true, z: 10,
    shape: { points: [[x + 45, ay], [x + 42, ay - 1.8], [x + 42, ay + 1.8]] }, style: { fill: '#666' } });
}

// frame
box(0, 1, 1203, 3, '#111');
box(2, 1, 2.5, 431, '#111');
box(600.5, 1, 4.5, 431, '#111');

// left panel text
txt(16, 17, 'Total confirmed COVID-19 cases per million: how rapidly are they', '16.6px ' + SERIF, '#555');
txt(16, 33, 'increasing?', '16.6px ' + SERIF, '#555');
txt(16, 49, 'The number of confirmed cases of COVID-19 is lower than the number of total cases. The main reason for this is limited', '10.2px ' + SANS, '#666');
txt(16, 60, 'testing.', '10.2px ' + SANS, '#666');
logo(520, 16);
continentLegend(527.7, 92.7, 12.3, 'Jan\n26,\n2020', 'Jun\n30,\n2020');
txt(265, 394, 'Days since the total confirmed cases per million people reached 1', '9px ' + LATO, '#333', { textAlign: 'center' });
txt(16, 411, 'Source: European CDC – Situation Update Worldwide – Last updated 30th June, 11:00 (London time)', '8.9px ' + SANS, '#888');
txt(591, 411, 'OurWorldInData.org/coronavirus • CC BY', '8.9px ' + SANS, '#888', { textAlign: 'right' });

// right panel text
txt(616, 18, 'Daily confirmed COVID-19 cases: are we bending the curve?', '19px ' + SERIF, '#555');
txt(616, 37, 'Because not everyone is tested the total number of cases is not known. Shown is the 7-day rolling average of', '10px ' + SANS, '#666');
txt(616, 48, 'confirmed cases.', '10px ' + SANS, '#666');
logo(1153, 16);
continentLegend(1127.7, 78.3, 12.4, 'Jan\n22,\n2020', 'Jun\n30,\n2020');
txt(865, 394, 'Days since confirmed cases first reached 30 per day', '9px ' + LATO, '#333', { textAlign: 'center' });
txt(617, 411, 'Source: European CDC – Situation Update Worldwide – Last updated 30th June, 11:00 (London time)', '8.9px ' + SANS, '#888');
txt(1190, 411, 'OurWorldInData.org/coronavirus • CC BY', '8.9px ' + SANS, '#888', { textAlign: 'right' });

const chart = echarts.init(document.getElementById('c'), null, { renderer: 'canvas', width: 1203, height: 432 });
chart.setOption({
  animation: false,
  backgroundColor: '#fff',
  grid: [
    { left: 55.5, top: 85, width: 456.5, height: 282 },
    { left: 656, top: 70, width: 454, height: 297.2 }
  ],
  xAxis: [xAxisFor(0, 155), xAxisFor(1, 160)],
  yAxis: [yAxisFor(0, 1, 35000, true), yAxisFor(1, 0.142857, 48000, false)],
  series: series,
  graphic: graphic
});
</script>
</body>
</html>
